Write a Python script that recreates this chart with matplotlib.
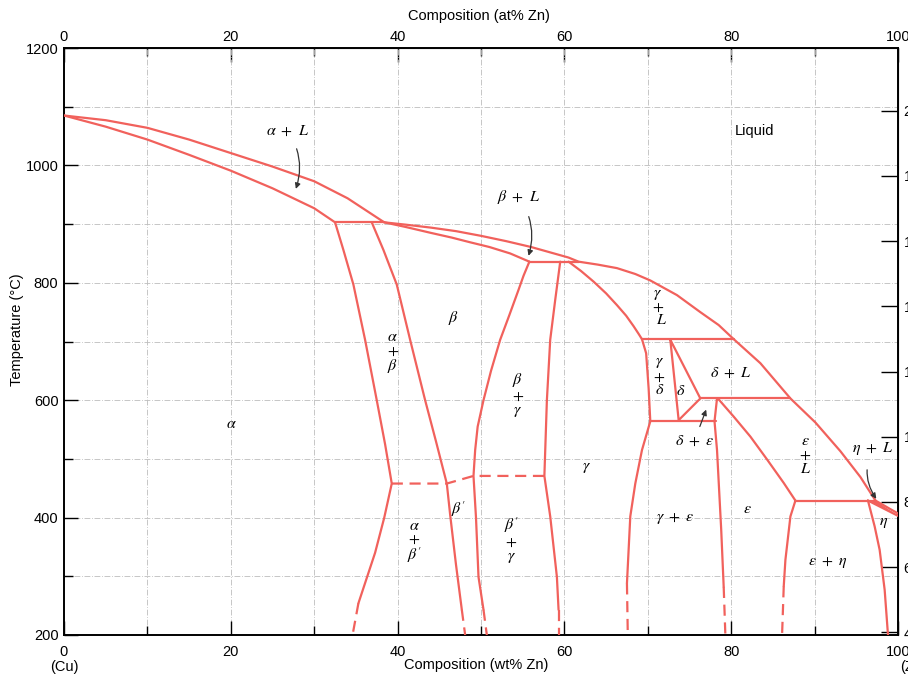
import matplotlib
matplotlib.use("Agg")
import matplotlib.pyplot as plt
from matplotlib.ticker import MultipleLocator, FixedLocator

plt.rcParams['mathtext.fontset'] = 'stix'
plt.rcParams['font.family'] = ['Liberation Sans', 'DejaVu Sans']

# ---------------- data: phase boundaries (wt% Zn, temperature degC) -------------
liquidus_w = [0, 5, 10, 15, 20, 25, 30, 34, 38.4, 41, 44, 47, 50, 53, 56, 58.5, 60.5, 61.7,
              64, 66.3, 68.5, 70.3, 73.5, 76.3, 78.5, 80.3, 83.5, 87.1, 90.1, 93.1, 95.5, 97.3]
liquidus_T = [1085, 1077, 1064, 1044, 1021, 998, 973, 944, 903, 899, 894, 888, 880, 871, 861, 851, 843, 836,
              831, 825, 815, 804, 779, 750, 728, 704, 663, 603, 562, 513, 469, 429]

alpha_solidus_w = [0, 5, 10, 15, 20, 25, 30, 32.5]
alpha_solidus_T = [1085, 1066, 1044, 1018, 991, 961, 927, 903]

beta_solidus_w = [38.4, 41, 44, 46.5, 48.7, 51, 53.5, 55.8]
beta_solidus_T = [903, 895, 885, 877, 869, 861, 850, 836]

a_ab_w = [32.5, 33.5, 34.7, 36.1, 37.5, 38.5, 39.3, 38.4, 37.3, 35.3]
a_ab_T = [903, 856, 797, 703, 600, 525, 458, 400, 340, 254]
a_ab_dash_w = [35.3, 34.6]
a_ab_dash_T = [254, 200]

b_ab_w = [36.9, 38.3, 39.9, 41.5, 43.3, 44.6, 45.9, 46.3, 47.0, 47.7]
b_ab_T = [903, 856, 797, 703, 600, 530, 458, 405, 320, 243]
b_ab_dash_w = [47.7, 48.1]
b_ab_dash_T = [243, 200]

order_w = [39.3, 45.9, 49.1, 57.6]
order_T = [458, 458, 471, 471]

b_bg_w = [55.8, 55.1, 54.5, 53.4, 52.3, 51.2, 50.3, 49.6, 49.3, 49.1, 49.4, 49.7, 50.3]
b_bg_T = [836, 812, 788, 745, 703, 650, 600, 555, 515, 471, 400, 299, 243]
b_bg_dash_w = [50.3, 50.7]
b_bg_dash_T = [243, 200]

g_bg_w = [59.5, 58.9, 58.3, 57.9, 57.6, 58.3, 59.1, 59.3]
g_bg_T = [836, 771, 703, 600, 471, 402, 299, 243]
g_bg_dash_w = [59.3, 59.3]
g_bg_dash_T = [243, 200]

gamma_solidus_w = [60.5, 62.0, 63.5, 65.0, 66.3, 67.4, 68.3, 68.9, 69.3]
gamma_solidus_T = [836, 820, 802, 782, 762, 744, 726, 713, 704]

g_gd_w = [69.3, 69.8, 70.1, 70.3, 69.3, 68.5, 67.9, 67.5]
g_gd_T = [704, 680, 620, 564, 515, 458, 402, 288]
g_ge_dash_w = [67.5, 67.6]
g_ge_dash_T = [288, 200]

delta_w = [72.7, 73.7, 76.3, 72.7]
delta_T = [703, 566, 603, 703]

eps_left_w = [78.3, 78.0, 78.3, 78.8, 79.1]
eps_left_T = [603, 564, 515, 380, 282]
eps_left_dash_w = [79.1, 79.3]
eps_left_dash_T = [282, 200]

eps_solidus_w = [78.4, 80.3, 82.3, 84.3, 86.3, 87.7]
eps_solidus_T = [603, 572, 538, 499, 459, 429]

e_eh_w = [87.7, 87.1, 86.5, 86.3]
e_eh_T = [429, 402, 328, 283]
e_eh_dash_w = [86.3, 86.1]
e_eh_dash_T = [283, 200]

eta_w = [96.4, 97.2, 97.8, 98.4, 98.8]
eta_T = [429, 385, 345, 277, 200]

eta_wedge_w = [96.4, 100, 97.3, 100]
eta_wedge_T = [429, 403, 429, 407]

# invariant horizontals: (w_start, w_end, T)
iso_w0 = [32.5, 55.8, 69.3, 76.3, 70.3, 87.7]
iso_w1 = [38.4, 61.7, 80.3, 87.1, 78.2, 97.3]
iso_T = [903, 836, 704, 603, 564, 429]

# axis ticks
wt_ticks = [0, 20, 40, 60, 80, 100]
at_ticks = [0, 20, 40, 60, 80, 100]
T_ticks = [200, 400, 600, 800, 1000, 1200]
F_ticks = [400, 600, 800, 1000, 1200, 1400, 1600, 1800, 2000, 2200]

RED = '#f1615c'
LW = 1.6

fig = plt.figure(figsize=(9.08, 6.77), dpi=100)
ax = fig.add_axes([64/908, 1-635/677, (898-64)/908, (635-48)/677])
ax.set_xlim(0, 100)
ax.set_ylim(200, 1200)

def solid(w, T):
    ax.plot(w, T, color=RED, lw=LW, solid_joinstyle='round', solid_capstyle='round', zorder=3)

def dashed(w, T):
    ax.plot(w, T, color=RED, lw=LW, linestyle=(0, (5, 3)), zorder=3)

for w, T in [(liquidus_w, liquidus_T), (alpha_solidus_w, alpha_solidus_T),
             (beta_solidus_w, beta_solidus_T), (a_ab_w, a_ab_T), (b_ab_w, b_ab_T),
             (b_bg_w, b_bg_T), (g_bg_w, g_bg_T), (gamma_solidus_w, gamma_solidus_T),
             (g_gd_w, g_gd_T), (delta_w, delta_T), (eps_left_w, eps_left_T),
             (eps_solidus_w, eps_solidus_T), (e_eh_w, e_eh_T), (eta_w, eta_T)]:
    solid(w, T)
for w0, w1, T in zip(iso_w0, iso_w1, iso_T):
    solid([w0, w1], [T, T])
ax.plot(eta_wedge_w[:2], eta_wedge_T[:2], color=RED, lw=LW, zorder=3)
ax.plot(eta_wedge_w[2:], eta_wedge_T[2:], color=RED, lw=LW, zorder=3)
ax.fill([eta_wedge_w[0], eta_wedge_w[2], eta_wedge_w[1]], [eta_wedge_T[0], eta_wedge_T[2], eta_wedge_T[1]],
        color=RED, lw=0, zorder=3)

for w, T in [(a_ab_dash_w, a_ab_dash_T), (b_ab_dash_w, b_ab_dash_T), (order_w, order_T),
             (b_bg_dash_w, b_bg_dash_T), (g_bg_dash_w, g_bg_dash_T), (g_ge_dash_w, g_ge_dash_T),
             (eps_left_dash_w, eps_left_dash_T), (e_eh_dash_w, e_eh_dash_T)]:
    dashed(w, T)

# grid and ticks
ax.xaxis.set_major_locator(FixedLocator(wt_ticks))
ax.xaxis.set_minor_locator(MultipleLocator(10))
ax.yaxis.set_major_locator(FixedLocator(T_ticks))
ax.yaxis.set_minor_locator(MultipleLocator(100))
ax.grid(which='both', color='#bdbdbd', linestyle=(0, (7, 2, 1, 2)), linewidth=0.6, zorder=0)
ax.tick_params(which='major', direction='in', length=10, width=1.0, labelsize=10.5, colors='black')
ax.tick_params(which='minor', direction='in', length=6.5, width=1.0)
ax.tick_params(axis='x', which='major', pad=7)
ax.tick_params(axis='y', which='major', pad=4)
for s in ax.spines.values():
    s.set_linewidth(1.4)

top = ax.secondary_xaxis('top')
top.xaxis.set_major_locator(FixedLocator(at_ticks))
top.xaxis.set_minor_locator(MultipleLocator(10))
top.tick_params(which='major', direction='in', length=10, width=1.0, labelsize=10.5, pad=3)
top.tick_params(which='minor', direction='in', length=6, width=1.0)

right = ax.secondary_yaxis('right', functions=(lambda c: c*9/5+32, lambda f: (f-32)*5/9))
right.yaxis.set_major_locator(FixedLocator(F_ticks))
right.yaxis.set_minor_locator(FixedLocator([]))
right.tick_params(which='both', direction='in', length=12, width=1.0, labelsize=10.5, pad=4)

fig.text(479/908, 1-16/677, 'Composition (at% Zn)', ha='center', va='center', fontsize=10.5)
fig.text(476/908, 1-665/677, 'Composition (wt% Zn)', ha='center', va='center', fontsize=10.5)
fig.text(64/908, 1-667/677, '(Cu)', ha='center', va='center', fontsize=10.5)
fig.text(900/908, 1-667/677, '(Zn)', ha='left', va='center', fontsize=10.5)
fig.text(17/908, 1-330/677, 'Temperature (°C)', ha='center', va='center', rotation=90, fontsize=10.5)

# phase labels
FS = 11.5
lab = dict(ha='center', va='center', fontsize=FS, zorder=4)
labels = [
    (82.8, 1059, 'Liquid', dict(family='Liberation Sans', fontsize=10.5)),
    (46.7, 740, r'$\beta$', {}),
    (39.4, 682, '$\\alpha$\n$+$\n$\\beta$', dict(linespacing=0.9)),
    (20.1, 561, r'$\alpha$', {}),
    (71.2, 759, '$\\gamma$\n$+$\n  $L$', dict(linespacing=0.8)),
    (54.4, 609, '$\\beta$\n$+$\n$\\gamma$', dict(linespacing=0.9)),
    (71.4, 641, '$\\gamma$\n$+$\n$\\delta$', dict(linespacing=0.9)),
    (73.9, 617, r'$\delta$', {}),
    (80.0, 647, r'$\delta\ +\ L$', {}),
    (88.9, 507, '$\\epsilon$\n$+$\n$L$', dict(linespacing=0.9)),
    (62.6, 486, r'$\gamma$', {}),
    (47.3, 415, r"$\beta'$", {}),
    (53.6, 362, "$\\beta'$\n$+$\n$\\gamma$", dict(linespacing=0.9)),
    (42.0, 360, "$\\alpha$\n$+$\n$\\beta'$", dict(linespacing=0.9)),
    (73.3, 399, r'$\gamma\ +\ \epsilon$', {}),
    (81.9, 416, r'$\epsilon$', {}),
    (98.3, 391, r'$\eta$', {}),
    (91.6, 324, r'$\epsilon\ +\ \eta$', {}),
]
for w, T, s, kw in labels:
    d = dict(lab)
    d.update(kw)
    ax.text(w, T, s, **d)

arrow = dict(arrowstyle='-|>', color='#333333', lw=0.9, mutation_scale=8, shrinkB=0)
ax.annotate(r'$\alpha\ +\ L$', xy=(27.8, 960), xytext=(26.8, 1059), ha='center', va='center', fontsize=FS,
            arrowprops=dict(arrow, connectionstyle='arc3,rad=-0.25', shrinkA=6))
ax.annotate(r'$\beta\ +\ L$', xy=(55.7, 846), xytext=(54.5, 946), ha='center', va='center', fontsize=FS,
            arrowprops=dict(arrow, connectionstyle='arc3,rad=-0.25', shrinkA=6))
ax.annotate(r'$\delta\ +\ \epsilon$', xy=(77.0, 584), xytext=(75.6, 531), ha='center', va='center', fontsize=FS,
            arrowprops=dict(arrow, connectionstyle='arc3,rad=0.0', shrinkA=3))
ax.annotate(r'$\eta\ +\ L$', xy=(97.4, 432), xytext=(97.0, 517), ha='center', va='center', fontsize=FS,
            arrowprops=dict(arrow, connectionstyle='arc3,rad=0.3', shrinkA=7))

fig.savefig('out.png', dpi=100)
